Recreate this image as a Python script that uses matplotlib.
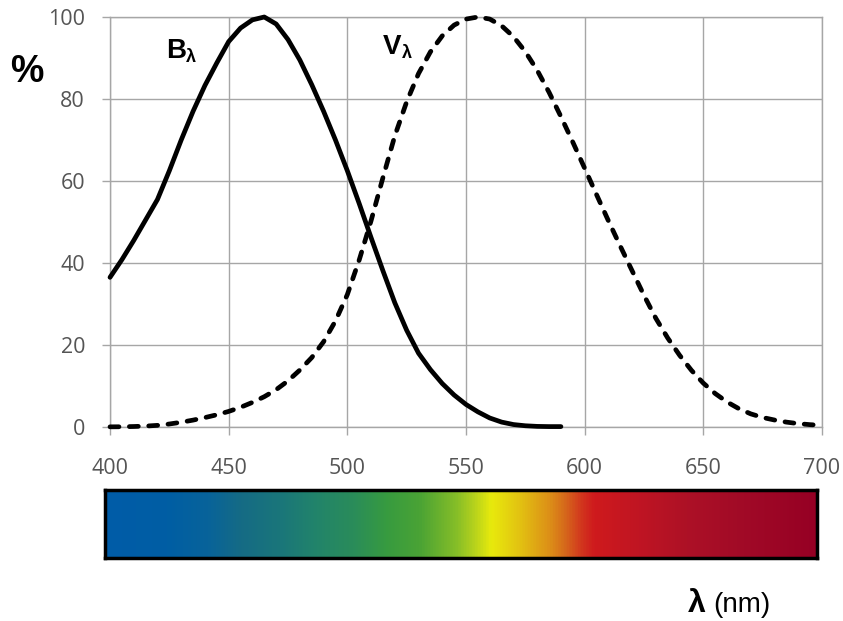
import numpy as np
import matplotlib.pyplot as plt
from matplotlib.colors import LinearSegmentedColormap

# B-lambda curve (solid)
b_nm = [400, 405, 410, 415, 420, 425, 430, 435, 440, 445, 450, 455, 460, 465,
        470, 475, 480, 485, 490, 495, 500, 505, 510, 515, 520, 525, 530, 535,
        540, 545, 550, 555, 560, 565, 570, 575, 580, 585, 590]
b_pct = [36.5, 40.8, 45.5, 50.5, 55.5, 62.5, 70, 77, 83.3, 88.8, 94, 97.3,
         99.3, 100, 98.3, 94.5, 89.5, 83.5, 77, 70, 62.5, 54.5, 46.2, 38.1,
         30.3, 23.6, 18.0, 14.0, 10.6, 7.8, 5.5, 3.7, 2.2, 1.2, 0.6, 0.3,
         0.15, 0.1, 0.1]

# V-lambda curve (dashed)
v_nm = list(range(400, 705, 5))
v_pct = [0.04, 0.06, 0.12, 0.22, 0.4, 0.73, 1.16, 1.68, 2.3, 2.98, 3.8, 4.8,
         6.0, 7.39, 9.1, 11.26, 13.9, 16.93, 20.8, 25.86, 32.3, 40.73, 50.3,
         60.82, 71.0, 79.32, 86.2, 91.49, 95.4, 98.03, 99.49, 100, 99.5, 97.86,
         95.2, 91.54, 87.0, 81.63, 75.7, 69.49, 63.1, 56.68, 50.3, 44.12, 38.1,
         32.1, 26.5, 21.7, 17.5, 13.82, 10.7, 8.16, 6.1, 4.46, 3.2, 2.32, 1.7,
         1.19, 0.82, 0.57, 0.41]

x_ticks = [400, 450, 500, 550, 600, 650, 700]
y_ticks = [0, 20, 40, 60, 80, 100]

# spectrum bar colour stops (position 0..1, colour)
spec_pos = [0.0, 0.086, 0.143, 0.19, 0.245, 0.297, 0.348, 0.395, 0.442, 0.494,
            0.52, 0.543, 0.585, 0.627, 0.646, 0.67, 0.688, 0.75, 0.819, 0.889, 1.0]
spec_col = ['#005ca8', '#005ea4', '#08639a', '#156b85', '#1a767a', '#22846a',
            '#2a8c5a', '#379b40', '#4aa335', '#86be28', '#b8d31c', '#e8ea0c',
            '#e2c012', '#dc8c18', '#d66a1b', '#d2361e', '#cf1a1d', '#c01523',
            '#ad1126', '#a20b27', '#960024']

tick_font = ['Open Sans', 'DejaVu Sans']
label_font = ['Liberation Sans', 'DejaVu Sans']

W, H = 843, 621
fig = plt.figure(figsize=(W / 100, H / 100), dpi=100)
ax = fig.add_axes([110 / W, 1 - 427 / H, (822 - 110) / W, (427 - 17) / H])

grid_c = '#a6a6a6'
ax.plot(b_nm, b_pct, color='black', lw=3.4, solid_capstyle='round',
        solid_joinstyle='round', clip_on=False, zorder=3)
ax.plot(v_nm, v_pct, color='black', lw=3.4, dashes=(1.9, 2.2), dash_capstyle='round',
        clip_on=False, zorder=3)

ax.set_xlim(400, 700)
ax.set_ylim(0, 100)
ax.set_xticks(x_ticks)
ax.set_yticks(y_ticks)
ax.grid(True, color=grid_c, lw=1.0)
ax.set_axisbelow(True)
for s in ax.spines.values():
    s.set_color(grid_c)
    s.set_linewidth(1.0)
ax.tick_params(axis='both', colors=grid_c, length=6, width=1.0, labelcolor='#555555',
               labelsize=15.5)
ax.tick_params(axis='x', pad=16)
ax.tick_params(axis='y', pad=12)
for lab in ax.get_xticklabels() + ax.get_yticklabels():
    lab.set_family(tick_font)

fig.text(27 / W, 1 - 82 / H, '%', fontsize=27, fontweight='bold', family=label_font,
         ha='center', va='baseline')
fig.text(166 / W, 1 - 58 / H, 'B', fontsize=20, fontweight='bold', family=label_font,
         ha='left', va='baseline')
fig.text(186 / W, 1 - 62 / H, 'λ', fontsize=13, fontweight='bold', family=label_font,
         ha='left', va='baseline')
fig.text(383 / W, 1 - 54 / H, 'V', fontsize=20, fontweight='bold', family=label_font,
         ha='left', va='baseline')
fig.text(402 / W, 1 - 58 / H, 'λ', fontsize=13, fontweight='bold', family=label_font,
         ha='left', va='baseline')
fig.text(688 / W, 1 - 612 / H, 'λ', fontsize=23, fontweight='bold', family=label_font,
         ha='left', va='baseline')
fig.text(713 / W, 1 - 612 / H, '(nm)', fontsize=20, family=label_font,
         ha='left', va='baseline')

# spectrum bar
cmap = LinearSegmentedColormap.from_list('spec', list(zip(spec_pos, spec_col)))
bax = fig.add_axes([105 / W, 1 - 558 / H, (817 - 105) / W, (558 - 490) / H])
bax.imshow(np.linspace(0, 1, 512)[None, :], aspect='auto', cmap=cmap,
           extent=(0, 1, 0, 1), interpolation='bilinear')
bax.set_xticks([])
bax.set_yticks([])
for s in bax.spines.values():
    s.set_color('black')
    s.set_linewidth(2.5)

fig.savefig('out.png', dpi=100)
